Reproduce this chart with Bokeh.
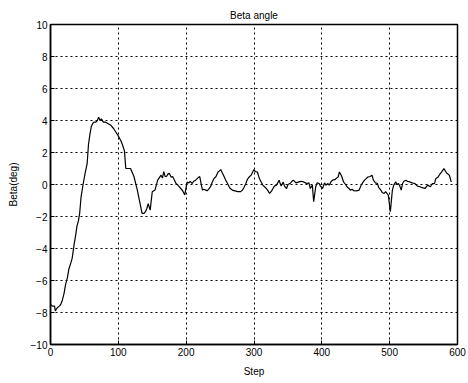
from bokeh.plotting import figure
from bokeh.models import Range1d, FixedTicker
from bokeh.embed import file_html
from bokeh.resources import INLINE

steps = [0, 3, 6, 7, 10, 13, 15, 17, 20, 22, 25, 27, 30, 32, 35, 37, 39, 41, 43, 45, 48, 51, 54, 56, 58, 60,
         62, 64, 67, 69, 71, 73, 75, 78, 81, 85, 89, 93, 96, 99, 101, 104, 106, 109, 111, 115, 118, 123, 128, 133,
         135, 138, 140, 142, 144, 147, 150, 154, 158, 160, 163, 165, 167, 169, 171, 173, 175, 178, 180, 183, 185,
         188, 190, 192, 195, 198, 200, 202, 204, 206, 209, 211, 214, 217, 219, 220, 222, 224, 226, 229, 231, 233,
         236, 238, 241, 244, 247, 249, 251, 253, 255, 258, 261, 264, 268, 272, 276, 280, 283, 285, 288, 290, 293,
         296, 298, 300, 302, 305, 308, 310, 313, 317, 320, 323, 326, 328, 330, 333, 335, 337, 340, 343, 345, 348,
         350, 353, 356, 358, 362, 366, 370, 373, 376, 378, 381, 383, 386, 388, 391, 393, 396, 398, 401, 404, 406,
         409, 411, 414, 416, 419, 421, 424, 426, 429, 432, 435, 437, 440, 442, 445, 447, 451, 455, 458, 460, 463,
         465, 468, 471, 474, 476, 479, 482, 484, 487, 489, 492, 494, 498, 501, 504, 506, 509, 511, 513, 515, 517,
         519, 521, 524, 526, 530, 533, 537, 541, 545, 548, 552, 556, 560, 563, 566, 568, 571, 573, 577, 580, 584,
         586, 588, 590, 591, 593, 595, 597, 600]
beta = [-7.5, -7.6, -7.6, -7.9, -7.7, -7.6, -7.5, -7.3, -6.8, -6.3, -5.8, -5.3, -4.9, -4.6, -3.7, -3.2, -2.6, -2.3,
        -1.8, -0.8, 0.0, 0.7, 1.3, 2.5, 3.1, 3.6, 3.8, 3.9, 3.9, 4.0, 4.2, 4.0, 4.1, 3.9, 3.9, 3.8, 3.7, 3.5, 3.3,
        3.1, 2.95, 2.7, 2.5, 2.1, 1.0, 1.0, 1.0, 0.5, -0.35, -1.4, -1.8, -1.8, -1.7, -1.5, -1.2, -1.6, -0.45, -0.35,
        0.27, 0.4, 0.58, 0.4, 0.8, 0.5, 0.5, 0.65, 0.7, 0.45, 0.5, 0.25, 0.06, -0.05, -0.15, -0.25, -0.4, -0.65,
        -0.14, 0.16, 0.1, 0.2, 0.06, 0.2, 0.27, 0.4, 0.47, 0.5, 0.06, -0.35, -0.3, -0.35, -0.39, -0.3, -0.14, 0.1,
        0.37, 0.5, 0.78, 0.85, 0.93, 0.75, 0.58, 0.3, 0.06, -0.2, -0.35, -0.4, -0.45, -0.45, -0.35, -0.2, 0.06,
        0.3, 0.47, 0.6, 0.78, 0.93, 0.8, 0.78, 0.37, 0.2, -0.04, -0.2, -0.35, -0.56, -0.4, -0.25, -0.1, -0.04, 0.1,
        0.27, -0.1, 0.16, -0.1, -0.25, 0.0, 0.06, 0.2, 0.27, 0.1, 0.16, 0.2, 0.16, 0.1, 0.06, 0.1, -0.25, -0.04,
        -1.07, -0.14, 0.1, 0.06, -0.1, -0.25, 0.1, -0.05, 0.06, -0.04, 0.2, 0.27, 0.3, 0.37, 0.47, 0.78, 0.55,
        0.16, 0.0, -0.14, -0.25, -0.35, -0.3, -0.39, -0.4, -0.35, -0.04, 0.1, 0.27, 0.35, 0.47, 0.5, 0.58, 0.27,
        0.1, 0.06, -0.2, -0.35, -0.5, -0.56, -0.45, -0.66, -1.7, -0.35, -0.04, 0.16, 0.0, 0.06, -0.1, -0.35, 0.06,
        0.2, 0.27, 0.2, 0.16, 0.1, 0.06, -0.1, -0.14, -0.2, -0.25, -0.04, -0.14, 0.06, 0.06, 0.37, 0.45, 0.58,
        0.8, 0.99, 0.72, 0.65, 0.58, 0.27, 0.16]

x_ticks = [0, 100, 200, 300, 400, 500, 600]
y_ticks = [-10, -8, -6, -4, -2, 0, 2, 4, 6, 8, 10]
title_text = "Beta angle"
x_label = "Step"
y_label = "Beta(deg)"

FONT = "Liberation Sans"

p = figure(width=468, height=383, output_backend="svg", toolbar_location=None,
           x_range=Range1d(0, 600), y_range=Range1d(-10, 10),
           min_border_left=50, min_border_right=11, min_border_top=24, min_border_bottom=39,
           x_axis_label=x_label, y_axis_label=y_label, title=title_text)
p.title.align = "center"
p.title.vertical_align = "top"
p.title.text_font = FONT
p.title.text_font_size = "10px"
p.title.text_font_style = "normal"
p.title.text_color = "black"
p.title.offset = 0
p.title.standoff = 4

p.outline_line_color = "black"
p.outline_line_width = 1.5
p.background_fill_color = "white"
p.border_fill_color = "white"

for ax in (p.xaxis[0], p.yaxis[0]):
    ax.major_label_text_font = FONT
    ax.major_label_text_font_size = "10px"
    ax.major_label_text_color = "black"
    ax.axis_label_text_font = FONT
    ax.axis_label_text_font_size = "10px"
    ax.axis_label_text_font_style = "normal"
    ax.axis_label_text_color = "black"
    ax.axis_line_color = "black"
    ax.axis_line_width = 1.5
    ax.major_tick_line_color = "black"
    ax.major_tick_in = 4
    ax.major_tick_out = 0
    ax.minor_tick_line_color = None
    ax.major_label_standoff = 3
p.xaxis[0].axis_label_standoff = 7
p.yaxis[0].axis_label_standoff = 9

p.xaxis.ticker = FixedTicker(ticks=x_ticks)
p.yaxis.ticker = FixedTicker(ticks=y_ticks)

p.xgrid.ticker = FixedTicker(ticks=x_ticks)
p.ygrid.ticker = FixedTicker(ticks=y_ticks)
for g in (p.xgrid[0], p.ygrid[0]):
    g.grid_line_color = "black"
    g.grid_line_dash = "2 3"
    g.grid_line_width = 1

p.line(steps, beta, line_color="black", line_width=1.2)

open("out.html", "w").write(file_html(p, INLINE))
